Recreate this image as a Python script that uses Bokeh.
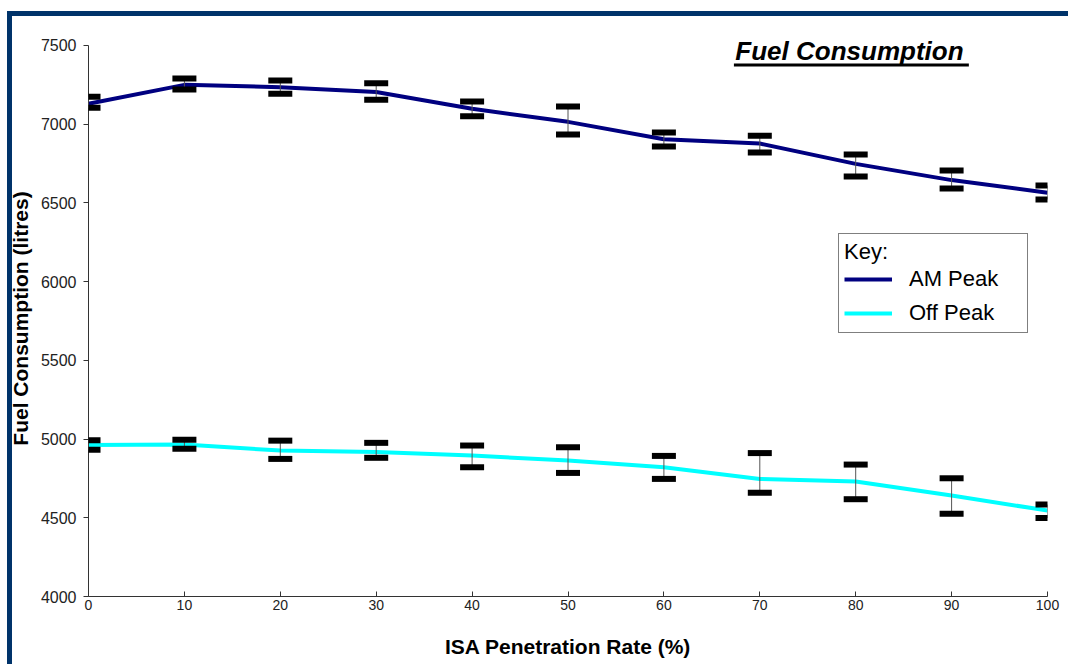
from bokeh.plotting import figure
from bokeh.models import (Range1d, Legend, LegendItem, Label, BoxAnnotation,
                          ColumnDataSource, FixedTicker, Whisker, TeeHead)
from bokeh.embed import file_html
from bokeh.resources import INLINE

# ISA penetration rate (%)
penetration = [0, 10, 20, 30, 40, 50, 60, 70, 80, 90, 100]

# AM peak fuel consumption (litres) with error bar limits
am_peak = [7130, 7250, 7235, 7205, 7098, 7015, 6905, 6877, 6748, 6645, 6565]
am_lower = [7104, 7220, 7194, 7156, 7050, 6934, 6859, 6821, 6668, 6591, 6522]
am_upper = [7174, 7291, 7278, 7260, 7144, 7113, 6948, 6926, 6808, 6706, 6610]

# Off peak fuel consumption (litres) with error bar limits
off_peak = [4962, 4966, 4927, 4918, 4895, 4864, 4821, 4747, 4730, 4641, 4546]
off_lower = [4932, 4938, 4874, 4881, 4821, 4785, 4747, 4659, 4618, 4525, 4499]
off_upper = [4993, 4995, 4990, 4976, 4959, 4948, 4893, 4911, 4838, 4751, 4584]

x_ticks = [0, 10, 20, 30, 40, 50, 60, 70, 80, 90, 100]
y_ticks = [4000, 4500, 5000, 5500, 6000, 6500, 7000, 7500]

FONT = "Liberation Sans"
NAVY = "#00336a"

am_src = ColumnDataSource(dict(x=penetration, y=am_peak, lo=am_lower, hi=am_upper))
off_src = ColumnDataSource(dict(x=penetration, y=off_peak, lo=off_lower, hi=off_upper))

# navy page frame along the top and left edges, painted behind a clear canvas
band = f"linear-gradient({NAVY}, {NAVY})"
page_bg = (f"{band} 7px 11px / 1061px 5px no-repeat, "
           f"{band} 7px 11px / 5px 653px no-repeat, #ffffff")

# a little headroom above 7500 so the heading is not clipped
p = figure(width=1068, height=664, output_backend="svg", toolbar_location=None,
           x_range=Range1d(0, 100), y_range=Range1d(4000, 7531.76),
           min_border_left=88, min_border_right=21, min_border_top=40,
           min_border_bottom=68, styles={"background": page_bg})
p.background_fill_color = "white"
p.border_fill_color = None
p.outline_line_color = None
p.grid.visible = False

# axes
p.xaxis.ticker = FixedTicker(ticks=x_ticks)
p.yaxis.ticker = FixedTicker(ticks=y_ticks)
p.yaxis.bounds = (4000, 7500)
for ax in (p.xaxis[0], p.yaxis[0]):
    ax.axis_line_color = "#333333"
    ax.major_tick_line_color = "#333333"
    ax.minor_tick_line_color = None
    ax.major_label_text_font = FONT
    ax.major_label_text_color = "#222222"
    ax.axis_label_text_font = FONT
    ax.axis_label_text_font_style = "bold"
    ax.axis_label_text_color = "#000000"
    ax.axis_label_text_font_size = "21px"
p.xaxis.major_tick_in = 5
p.xaxis.major_tick_out = 0
p.xaxis.major_label_text_font_size = "14px"
p.xaxis.major_label_standoff = 3
p.xaxis.axis_label = "ISA Penetration Rate (%)"
p.xaxis.axis_label_standoff = 22
p.yaxis.major_tick_in = 0
p.yaxis.major_tick_out = 5
p.yaxis.major_label_text_font_size = "16px"
p.yaxis.major_label_standoff = 7
p.yaxis.axis_label = "Fuel Consumption (litres)"
p.yaxis.axis_label_standoff = 6

# series lines
am_line = p.line("x", "y", source=am_src, line_color="#000080", line_width=4)
off_line = p.line("x", "y", source=off_src, line_color="#00ffff", line_width=4)

# error bars with thick caps
for src in (am_src, off_src):
    cap = dict(size=24, line_width=6, line_color="black")
    p.add_layout(Whisker(base="x", lower="lo", upper="hi", source=src,
                         line_color="#555555", line_width=1, level="overlay",
                         lower_head=TeeHead(**cap), upper_head=TeeHead(**cap)))

legend = Legend(items=[LegendItem(label="AM Peak", renderers=[am_line]),
                       LegendItem(label="Off Peak", renderers=[off_line])],
                title="Key:", location=(750, 263))
legend.title_text_font = FONT
legend.title_text_font_style = "normal"
legend.title_text_font_size = "22px"
legend.title_text_color = "black"
legend.title_standoff = 0
legend.label_text_font = FONT
legend.label_text_font_size = "22px"
legend.label_text_color = "black"
legend.border_line_color = "black"
legend.border_line_width = 1
legend.background_fill_alpha = 1
legend.glyph_width = 48
legend.glyph_height = 28
legend.label_height = 28
legend.label_standoff = 17
legend.label_width = 113
legend.padding = 5
legend.spacing = 6
legend.margin = 0
p.add_layout(legend)

# underlined chart heading
p.add_layout(Label(x=67.45, y=7464, text="Fuel Consumption", text_font=FONT,
                   text_color="black", text_font_style="bold italic",
                   text_font_size="26px", text_baseline="alphabetic"))
p.add_layout(BoxAnnotation(left=67.3, right=91.8, top=7385, bottom=7366,
                           fill_color="black", fill_alpha=1, line_color=None))

open("out.html", "w").write(file_html(p, INLINE))
